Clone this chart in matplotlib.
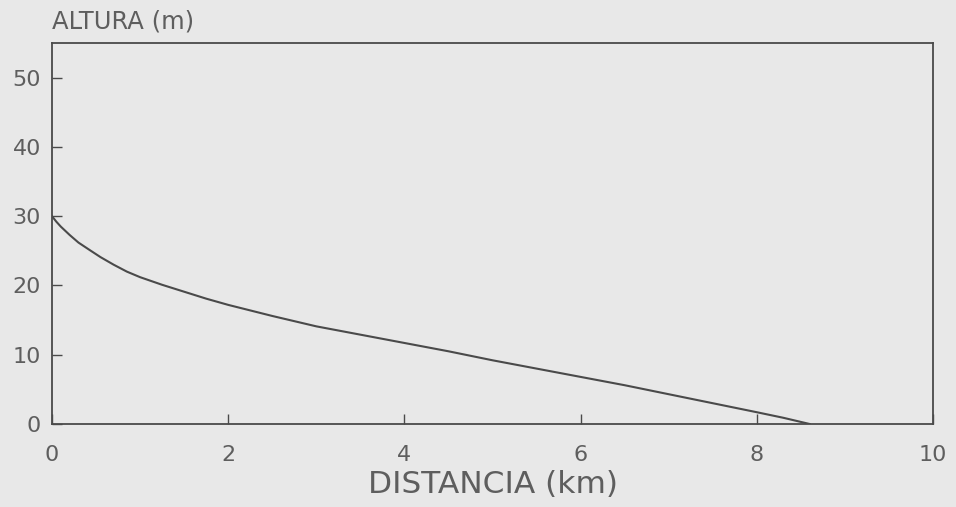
import matplotlib
matplotlib.use("Agg")
from matplotlib import pyplot as plt

# values
distancia = [0, 0.05, 0.1, 0.2, 0.3, 0.43, 0.55, 0.7, 0.85, 1.0, 1.25, 1.5,
             1.75, 2.0, 2.5, 3.0, 3.5, 4.0, 4.5, 5.0, 5.5, 6.0, 6.5, 7.0,
             7.5, 8.0, 8.3, 8.6]
altura = [30, 29.2, 28.5, 27.3, 26.2, 25.1, 24.1, 23.0, 22.0, 21.2, 20.1,
          19.1, 18.1, 17.2, 15.6, 14.1, 12.9, 11.7, 10.5, 9.2, 8.0, 6.8,
          5.6, 4.3, 3.0, 1.7, 0.9, 0.0]
xticks = [0, 2, 4, 6, 8, 10]
yticks = [0, 10, 20, 30, 40, 50]

bg = "#e8e8e8"
ink = "#4a4a4a"
txt = "#5e5e5e"

plt.rcParams['font.family'] = ['DejaVu Sans']

fig = plt.figure(figsize=(9.56, 5.07), dpi=100, facecolor=bg)
ax = fig.add_axes([0.0544, 0.1637, 0.9216, 0.7513])
ax.set_facecolor(bg)

ax.plot(distancia, altura, color=ink, lw=1.5)

ax.set_xlim(0, 10)
ax.set_ylim(0, 55)
ax.set_xticks(xticks)
ax.set_yticks(yticks)
ax.tick_params(direction='in', length=7, width=1, color=ink,
               labelcolor=txt, labelsize=16)
ax.tick_params(axis='x', pad=15)
ax.tick_params(axis='y', pad=8)
for s in ax.spines.values():
    s.set_color(ink)
    s.set_linewidth(1.3)

ax.set_xlabel('DISTANCIA (km)', fontsize=22.5, color=txt, labelpad=4)
ax.text(0, 1.025, 'ALTURA (m)', transform=ax.transAxes, fontsize=17.5,
        color=txt, ha='left', va='bottom')

plt.savefig("out.png", dpi=100, facecolor=bg)
